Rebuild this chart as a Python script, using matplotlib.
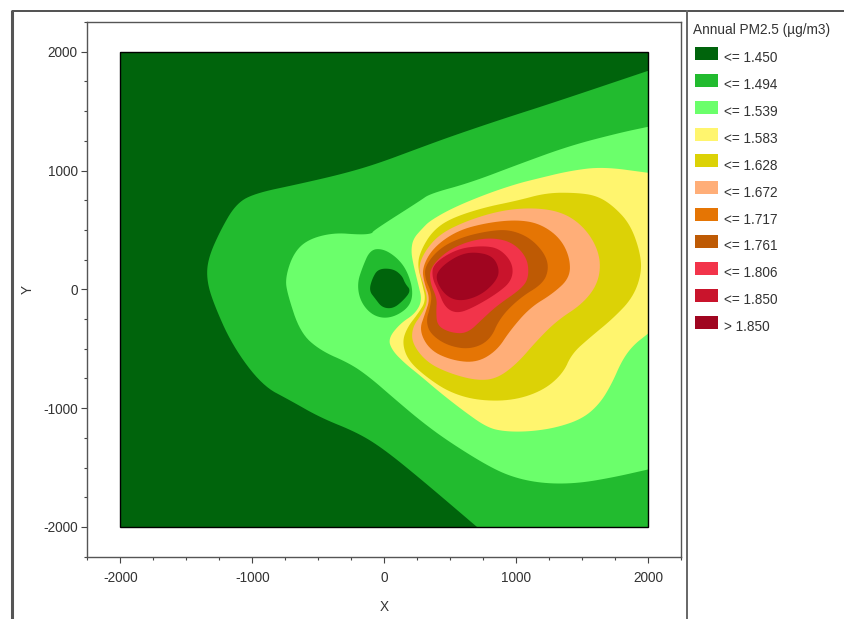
import matplotlib
matplotlib.use('Agg')
import matplotlib.pyplot as plt
from matplotlib.lines import Line2D
from matplotlib.patches import Rectangle
from matplotlib.ticker import MultipleLocator

plt.rcParams['font.family'] = ['Liberation Sans', 'DejaVu Sans']
plt.rcParams['axes.unicode_minus'] = False

legend_title = 'Annual PM2.5 (µg/m3)'
legend_labels = ['<= 1.450', '<= 1.494', '<= 1.539', '<= 1.583', '<= 1.628', '<= 1.672',
                 '<= 1.717', '<= 1.761', '<= 1.806', '<= 1.850', '> 1.850']
colors = ['#00640C', '#22BB2F', '#6BFF6B', '#FFF56E', '#DCD206', '#FFAE78',
          '#E57504', '#BE5A04', '#F2344A', '#C9142C', '#A00520']

# grid extent
domain = [(-2000, -2000), (2000, -2000), (2000, 2000), (-2000, 2000)]

# contour outlines, x/y in metres
band_1494 = [(2000, 1839), (1280, 1570), (900, 1435), (522, 1293), (273, 1192), (-53, 1057),
             (-310, 973), (-636, 889), (-992, 805), (-1128, 712), (-1242, 494), (-1332, 267),
             (-1347, 98), (-1302, -95), (-1151, -473), (-924, -810), (-712, -935), (-484, -1079),
             (-204, -1205), (-8, -1340), (273, -1592), (704, -2000)]
band_1539 = [(2000, 1368), (1787, 1318), (1408, 1209), (1030, 1057), (651, 897), (348, 805),
             (273, 746), (-83, 494), (-91, 469), (-182, 460), (-386, 477), (-583, 418),
             (-689, 300), (-749, 98), (-734, -36), (-636, -364), (-484, -515), (-257, -625),
             (-106, -743), (68, -911), (273, -1104), (477, -1272), (780, -1483), (977, -1583),
             (1204, -1634), (1461, -1634), (1734, -1583), (2000, -1516)]
island_1494 = [(-106, 334), (-8, 342), (98, 267), (174, 157), (220, -11), (197, -137), (98, -221),
               (-8, -246), (-106, -204), (-182, -95), (-204, 48), (-166, 182)]
island_1450 = [(-45, 174), (68, 174), (136, 115), (159, 48), (204, -11), (144, -95), (68, -162),
               (-15, -154), (-68, -78), (-114, -11), (-91, 90)]
band_1583 = [(2000, 981), (1658, 1032), (1408, 998), (1158, 931), (1007, 889), (780, 805),
             (522, 687), (348, 578), (288, 511), (220, 426), (204, 325), (220, 216), (257, 48),
             (288, -95), (235, -204), (121, -288), (30, -415), (61, -515), (159, -625), (273, -726),
             (424, -869), (598, -1020), (780, -1163), (916, -1197), (1105, -1197), (1310, -1163),
             (1506, -1087), (1635, -961), (1726, -793), (1802, -600), (1885, -473), (2000, -373)]
band_1628 = [(1461, 813), (1234, 813), (1007, 746), (749, 687), (500, 595), (371, 494), (288, 351),
             (250, 216), (288, 48), (318, -95), (257, -204), (174, -322), (136, -448), (182, -600),
             (325, -743), (500, -869), (712, -936), (977, -936), (1204, -852), (1355, -709),
             (1423, -541), (1559, -406), (1734, -246), (1885, -70), (1953, 140), (1938, 325),
             (1862, 553), (1734, 704), (1612, 788)]
band_1672 = [(1105, 687), (1310, 662), (1461, 578), (1582, 426), (1643, 241), (1620, 48), (1506, -120),
             (1310, -263), (1158, -431), (1007, -625), (855, -751), (704, -768), (500, -709),
             (325, -616), (212, -457), (212, -322), (288, -204), (333, -95), (295, 56), (257, 182),
             (310, 325), (424, 468), (628, 578), (878, 662)]
band_1717 = [(1007, 586), (1181, 553), (1332, 435), (1408, 267), (1408, 98), (1279, -36), (1105, -154),
             (954, -347), (855, -515), (704, -616), (522, -600), (348, -515), (265, -347), (310, -204),
             (348, -78), (303, 56), (288, 182), (371, 351), (553, 494), (780, 561)]
band_1761 = [(954, 502), (1105, 435), (1219, 300), (1249, 174), (1204, 48), (1030, -70), (878, -238),
             (802, -431), (651, -507), (477, -473), (348, -373), (318, -263), (348, -154), (363, -36),
             (310, 90), (310, 199), (424, 351), (598, 443), (802, 494)]
band_1806 = [(825, 435), (977, 393), (1083, 267), (1098, 115), (1052, 14), (855, -137), (749, -246),
             (628, -373), (500, -364), (401, -305), (394, -179), (401, -78), (348, 56), (348, 182),
             (477, 325), (651, 410)]
band_1850 = [(749, 368), (878, 342), (977, 216), (969, 73), (855, -36), (674, -154), (553, -204),
             (462, -154), (409, -11), (363, 98), (371, 216), (553, 342)]
band_top = [(674, 317), (825, 283), (878, 157), (840, 56), (727, -53), (575, -103), (462, -53),
            (386, 90), (424, 182), (553, 283)]

# painted bottom to top: outline, colour index, True if both ends sit on the grid edge
layers = [(band_1494, 1, True), (band_1539, 2, True), (island_1494, 1, False), (island_1450, 0, False),
          (band_1583, 3, True), (band_1628, 4, False), (band_1672, 5, False), (band_1717, 6, False),
          (band_1761, 7, False), (band_1806, 8, False), (band_1850, 9, False), (band_top, 10, False)]


def round_corners(pts, is_open, passes=3):
    # corner cutting, the outlines were only read at a few dozen places
    for _ in range(passes):
        new = []
        n = len(pts)
        for i in range(n - 1 if is_open else n):
            a, b = pts[i], pts[(i + 1) % n]
            new.append((0.75 * a[0] + 0.25 * b[0], 0.75 * a[1] + 0.25 * b[1]))
            new.append((0.25 * a[0] + 0.75 * b[0], 0.25 * a[1] + 0.75 * b[1]))
        if is_open:
            new = [pts[0]] + new + [pts[-1]]
        pts = new
    return pts


W, H = 845, 619
fig = plt.figure(figsize=(W / 100, H / 100), dpi=100)
ax = fig.add_axes([87.3 / W, 1 - 556.7 / H, (681 - 87.3) / W, (556.7 - 22) / H])

ax.fill([p[0] for p in domain], [p[1] for p in domain], color=colors[0], lw=0)
for outline, c, is_open in layers:
    pts = round_corners(outline, is_open)
    if outline is band_1494:
        pts = pts + [(2000, -2000)]
    ax.fill([p[0] for p in pts], [p[1] for p in pts], color=colors[c], lw=0)
ax.add_patch(Rectangle((-2000, -2000), 4000, 4000, fill=False, ec='black', lw=1, zorder=5))

ax.set_xlim(-2250, 2250)
ax.set_ylim(-2250, 2250)
ax.xaxis.set_major_locator(MultipleLocator(1000))
ax.yaxis.set_major_locator(MultipleLocator(1000))
ax.xaxis.set_minor_locator(MultipleLocator(250))
ax.yaxis.set_minor_locator(MultipleLocator(250))
ax.tick_params(which='major', length=4.5, width=0.8, color='#444444', labelsize=9.8,
               labelcolor='#333333', pad=2.5)
ax.tick_params(axis='x', which='major', pad=5.5)
ax.tick_params(which='minor', length=2, width=0.8, color='#444444')
for s in ax.spines.values():
    s.set_color('#555555')
    s.set_linewidth(1.0)
ax.set_xlabel('X', fontsize=9.8, color='#333333', va='center')
ax.set_ylabel('Y', fontsize=9.8, color='#333333', va='center')
ax.xaxis.set_label_coords(0.5, -0.094)
ax.yaxis.set_label_coords(-0.1, 0.5)


# outer window frame
def frame(x0, y0, x1, y1, c, lw):
    fig.add_artist(Line2D([x0 / W, x1 / W], [1 - y0 / H, 1 - y1 / H], color=c, lw=lw,
                          solid_capstyle='butt'))


frame(12, 10.5, W, 10.5, '#333333', 1.2)
frame(12, 10, 12, H, '#555555', 2.2)
frame(687, 10, 687, H, '#666666', 1.4)

# legend
fig.text(693 / W, 1 - 30 / H, legend_title, fontsize=9.8, color='#333333', va='center')
for i, lab in enumerate(legend_labels):
    top = 47 + 26.85 * i
    fig.add_artist(Rectangle((695 / W, 1 - (top + 13) / H), 23 / W, 13 / H, fc=colors[i], ec='none',
                             transform=fig.transFigure))
    fig.text(724 / W, 1 - (top + 11.5) / H, lab, fontsize=9.8, color='#333333', va='center')

fig.savefig('out.png', dpi=100)
